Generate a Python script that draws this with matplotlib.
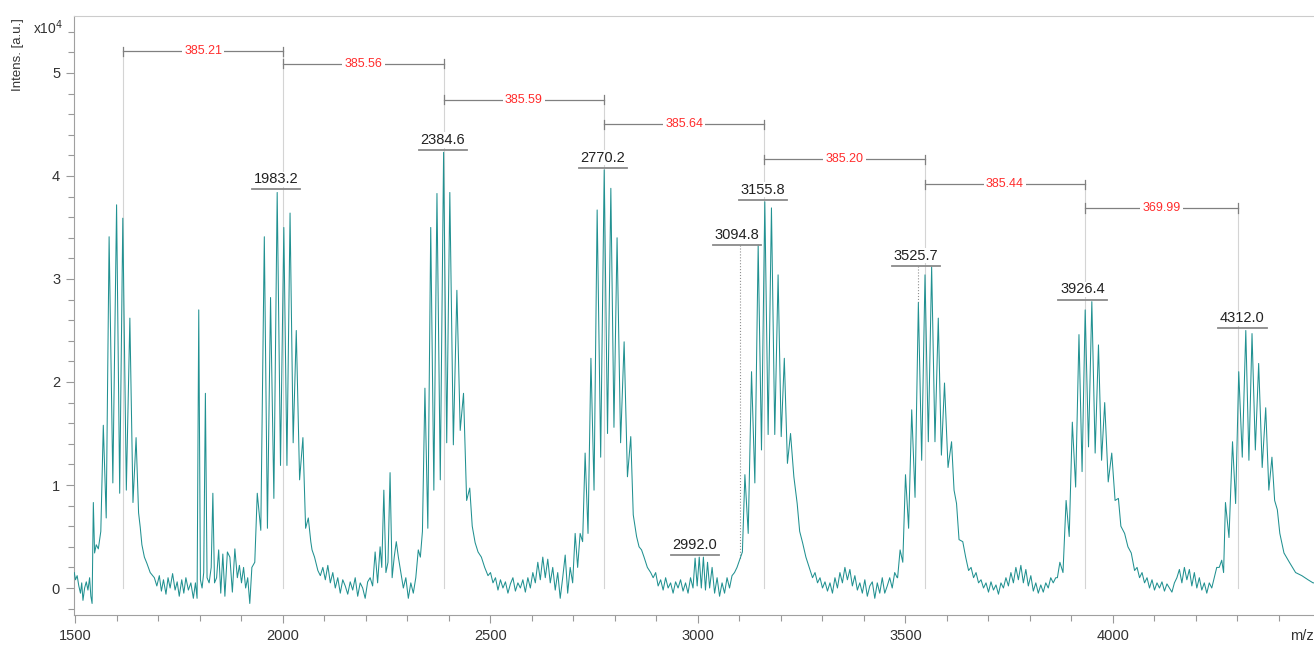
import numpy as np
import matplotlib.pyplot as plt

plt.rcParams['font.family'] = ['Liberation Sans', 'DejaVu Sans']

# intensities in units of 1e4
# baseline / small-peak stretches as plain (m/z, intensity) points
lead1_mz = [1497, 1500, 1504, 1508, 1512, 1515, 1518, 1522, 1526, 1530, 1534, 1537, 1540, 1543, 1546, 1550, 1555]
lead1_int = [0.15, 0.08, 0.12, 0.02, -0.05, 0.05, -0.12, 0.0, 0.06, -0.02, 0.1, -0.08, -0.15, 0.83, 0.34, 0.42, 0.38]

gap1_mz = [1656, 1660, 1666, 1672, 1680, 1690, 1696, 1702, 1707, 1712, 1718, 1723, 1728, 1734, 1740, 1745,
           1750, 1756, 1761, 1766, 1772, 1778, 1784, 1789, 1793, 1797, 1801, 1805, 1809, 1813, 1817, 1822, 1827,
           1831, 1835, 1840, 1845, 1850, 1855, 1860, 1866, 1872, 1878, 1884, 1890, 1895, 1900, 1905, 1910, 1915,
           1920, 1925]
gap1_int = [0.59, 0.42, 0.3, 0.24, 0.15, 0.1, 0.02, 0.12, -0.03, 0.08, -0.06, 0.1, 0.0, 0.14, -0.02, 0.06,
            -0.08, 0.08, -0.05, 0.1, -0.02, 0.05, -0.1, 0.05, -0.1, 2.70, 0.08, 0.0, 0.15, 1.89, 0.1, 0.05, 0.2,
            0.92, 0.05, 0.1, 0.37, -0.05, 0.33, -0.08, 0.35, 0.3, -0.04, 0.38, 0.1, 0.22, 0.05, 0.2, 0.0, 0.1,
            -0.15, 0.2]

gap2_mz = [2070, 2076, 2084, 2090, 2096, 2102, 2108, 2114, 2120, 2126, 2132, 2138, 2144, 2150, 2156, 2162,
           2168, 2174, 2180, 2186, 2192, 2198, 2204, 2210, 2216, 2222, 2228, 2234, 2238, 2243, 2248, 2253, 2258,
           2263, 2268, 2273, 2278, 2284, 2290, 2296, 2302, 2308, 2314, 2320, 2326, 2331]
gap2_int = [0.37, 0.3, 0.17, 0.12, 0.2, 0.08, 0.22, 0.05, 0.15, 0.0, 0.1, -0.05, 0.08, 0.02, -0.06, 0.06,
            -0.02, 0.1, -0.08, 0.05, 0.0, -0.1, 0.06, 0.1, 0.02, 0.35, 0.05, 0.4, 0.2, 0.95, 0.15, 0.25, 1.12,
            0.1, 0.3, 0.45, 0.3, 0.15, 0.0, 0.1, -0.1, 0.05, -0.05, 0.1, 0.37, 0.3]

gap3_mz = [2463, 2470, 2478, 2486, 2494, 2500, 2506, 2512, 2518, 2524, 2530, 2536, 2542, 2548, 2554, 2560,
           2566, 2572, 2578, 2584, 2590, 2596, 2602, 2608, 2614, 2620, 2626, 2632, 2638, 2644, 2650, 2656, 2662,
           2668, 2674, 2680, 2686, 2692, 2698, 2704, 2710, 2716]
gap3_int = [0.44, 0.35, 0.3, 0.2, 0.12, 0.15, 0.05, 0.1, -0.02, 0.08, 0.0, 0.06, -0.05, 0.04, 0.1, -0.03,
            0.05, 0.0, 0.08, -0.04, 0.1, 0.0, 0.15, 0.05, 0.25, 0.08, 0.3, 0.1, 0.28, 0.05, 0.2, -0.02, 0.15,
            -0.1, 0.1, 0.32, -0.05, 0.2, 0.05, 0.53, 0.2, 0.53]

gap4_mz = [2852, 2858, 2864, 2870, 2878, 2886, 2892, 2898, 2904, 2910, 2916, 2922, 2928, 2934, 2940, 2946,
           2952, 2958, 2964, 2970, 2976, 2982, 2988, 2993, 2998, 3003, 3008, 3013, 3018, 3023, 3028, 3034, 3040,
           3046, 3052, 3058, 3064, 3070, 3076, 3082, 3088, 3094, 3100]
gap4_int = [0.5, 0.4, 0.37, 0.3, 0.2, 0.15, 0.1, 0.15, 0.02, 0.08, -0.02, 0.1, 0.0, 0.05, -0.05, 0.06,
            0.0, 0.08, -0.03, 0.05, -0.05, 0.1, 0.0, 0.29, 0.02, 0.3, 0.0, 0.3, -0.02, 0.25, 0.0, 0.2, -0.05,
            0.1, -0.08, 0.05, -0.05, 0.1, 0.0, 0.12, 0.15, 0.2, 0.27]

gap5_mz = [3252, 3260, 3268, 3276, 3282, 3288, 3294, 3300, 3306, 3312, 3318, 3324, 3330, 3336, 3342, 3348,
           3354, 3360, 3366, 3372, 3378, 3384, 3390, 3396, 3402, 3408, 3414, 3420, 3426, 3432, 3438, 3444, 3450,
           3456, 3462, 3468, 3474, 3480]
gap5_int = [0.44, 0.3, 0.2, 0.1, 0.15, 0.05, 0.1, 0.0, 0.06, -0.03, 0.05, -0.05, 0.1, 0.0, 0.15, 0.05,
            0.2, 0.08, 0.18, 0.02, 0.12, -0.02, 0.05, -0.05, 0.08, -0.08, 0.02, 0.06, -0.1, 0.05, -0.05, 0.1,
            -0.05, 0.02, 0.1, 0.0, 0.15, 0.1]

gap6_mz = [3638, 3645, 3652, 3658, 3664, 3670, 3676, 3682, 3688, 3694, 3700, 3706, 3712, 3718, 3724, 3730,
           3736, 3742, 3748, 3754, 3760, 3766, 3772, 3778, 3784, 3790, 3796, 3802, 3808, 3814, 3820, 3826, 3832,
           3838, 3844, 3850, 3856, 3862]
gap6_int = [0.45, 0.3, 0.17, 0.2, 0.1, 0.15, 0.05, 0.08, 0.0, 0.05, -0.04, 0.06, -0.02, 0.03, -0.06, 0.05,
            0.0, 0.1, 0.02, 0.15, 0.05, 0.2, 0.08, 0.22, 0.05, 0.18, 0.02, 0.12, -0.03, 0.05, -0.05, 0.03, -0.04,
            0.05, 0.0, 0.1, 0.05, 0.1]

gap7_mz = [4028, 4036, 4044, 4052, 4058, 4064, 4070, 4076, 4082, 4088, 4094, 4100, 4106, 4112, 4118, 4124,
           4130, 4136, 4142, 4148, 4154, 4160, 4166, 4172, 4178, 4184, 4190, 4196, 4202, 4208, 4214, 4220, 4226,
           4232, 4238, 4244, 4250]
gap7_int = [0.53, 0.4, 0.34, 0.17, 0.2, 0.1, 0.15, 0.05, 0.1, 0.0, 0.08, -0.02, 0.05, 0.0, 0.06, -0.03,
            0.04, 0.0, -0.04, 0.05, 0.1, 0.18, 0.05, 0.2, 0.08, 0.18, 0.02, 0.15, 0.0, 0.1, -0.02, 0.05, -0.05,
            0.05, 0.0, 0.1, 0.2]

tail_mz = [4412, 4425, 4440, 4455, 4470, 4482, 4500, 4520, 4545]
tail_int = [0.34, 0.25, 0.15, 0.12, 0.08, 0.05, 0.05, 0.0, 0.02]

# peak clusters: spike positions, spike tops, valley minima (before, between, after)
c1_mz = [1567, 1581, 1599, 1614, 1631, 1646]
c1_top = [1.58, 3.41, 3.72, 3.59, 2.62, 1.46]
c1_floor = [0.55, 0.68, 1.02, 0.92, 0.95, 0.83, 0.73]

c2_mz = [1938, 1955, 1970, 1986, 2002, 2017, 2032, 2048, 2061]
c2_top = [0.92, 3.41, 2.82, 3.84, 3.50, 3.64, 2.50, 1.46, 0.68]
c2_floor = [0.25, 0.56, 0.58, 0.87, 1.19, 1.19, 1.41, 1.05, 0.58, 0.45]

c3_mz = [2342, 2356, 2371, 2387, 2402, 2419, 2435, 2450]
c3_top = [1.94, 3.50, 3.83, 4.23, 3.84, 2.89, 1.89, 0.97]
c3_floor = [0.55, 0.58, 0.95, 1.05, 1.41, 1.39, 1.53, 0.85, 0.6]

c4_mz = [2728, 2742, 2757, 2774, 2790, 2805, 2822, 2838]
c4_top = [1.31, 2.23, 3.67, 4.06, 3.88, 3.40, 2.39, 1.47]
c4_floor = [0.45, 0.53, 0.95, 1.27, 1.50, 1.56, 1.41, 1.08, 0.71]

c5_mz = [3113, 3129, 3145, 3161, 3177, 3193, 3208, 3223, 3239]
c5_top = [1.10, 2.10, 3.33, 3.75, 3.69, 3.04, 2.23, 1.50, 0.82]
c5_floor = [0.35, 0.53, 1.02, 1.34, 1.49, 1.49, 1.47, 1.21, 1.08, 0.55]

c6_mz = [3487, 3500, 3515, 3531, 3547, 3563, 3579, 3594, 3611, 3623]
c6_top = [0.37, 1.10, 1.73, 2.77, 3.04, 3.12, 2.62, 1.99, 1.42, 0.82]
c6_floor = [0.1, 0.25, 0.58, 0.88, 1.24, 1.42, 1.42, 1.29, 1.17, 0.95, 0.47]

c7_mz = [3872, 3887, 3902, 3918, 3933, 3949, 3965, 3980, 3997, 4013]
c7_top = [0.25, 0.85, 1.61, 2.46, 2.70, 2.78, 2.36, 1.80, 1.31, 0.87]
c7_floor = [0.1, 0.15, 0.5, 0.98, 1.13, 1.37, 1.31, 1.24, 1.03, 0.85, 0.6]

c8_mz = [4262, 4271, 4288, 4303, 4320, 4335, 4351, 4368, 4383, 4396]
c8_top = [0.27, 0.83, 1.42, 2.10, 2.50, 2.47, 2.18, 1.75, 1.27, 0.76]
c8_floor = [0.2, 0.15, 0.49, 0.82, 1.27, 1.24, 1.34, 1.17, 0.95, 0.85, 0.53]

# peak labels
peak_text = ['1983.2', '2384.6', '2770.2', '2992.0', '3094.8', '3155.8', '3525.7', '3926.4', '4312.0']
peak_mz = [1983.2, 2384.6, 2770.2, 2992.0, 3094.8, 3155.8, 3525.7, 3926.4, 4312.0]
peak_label_y = [3.87, 4.25, 4.08, 0.32, 3.33, 3.77, 3.13, 2.80, 2.52]
peak_line_mz = [3101, 3531]
peak_line_top = [3.33, 3.13]
peak_line_bottom = [0.27, 2.77]

# distance brackets
bracket_text = ['385.21', '385.56', '385.59', '385.64', '385.20', '385.44', '369.99']
bracket_x = [1614.5, 2001, 2387, 2773, 3160, 3546, 3932, 4302]
bracket_y = [5.21, 5.09, 4.74, 4.50, 4.16, 3.92, 3.69]


def comb(pos, top, floor):
    # alternate valley minimum / spike top
    xs, ys = [pos[0] - 6], [floor[0]]
    for i, (p, t) in enumerate(zip(pos, top)):
        nxt = pos[i + 1] if i + 1 < len(pos) else p + 12
        xs += [p, (p + nxt) / 2]
        ys += [t, floor[i + 1]]
    return xs, ys


parts = [(lead1_mz, lead1_int), comb(c1_mz, c1_top, c1_floor), (gap1_mz, gap1_int),
         comb(c2_mz, c2_top, c2_floor), (gap2_mz, gap2_int), comb(c3_mz, c3_top, c3_floor),
         (gap3_mz, gap3_int), comb(c4_mz, c4_top, c4_floor), (gap4_mz, gap4_int),
         comb(c5_mz, c5_top, c5_floor), (gap5_mz, gap5_int), comb(c6_mz, c6_top, c6_floor),
         (gap6_mz, gap6_int), comb(c7_mz, c7_top, c7_floor), (gap7_mz, gap7_int),
         comb(c8_mz, c8_top, c8_floor), (tail_mz, tail_int)]
mz = np.concatenate([p[0] for p in parts])
intens = np.concatenate([p[1] for p in parts])

fig = plt.figure(figsize=(13.14, 6.46), dpi=100)
ax = fig.add_axes([74 / 1314, 31 / 646, 1266 / 1314, 599 / 646])

ax.plot(mz, intens, color='#219191', lw=0.75, zorder=3)

ax.set_xlim(1496.4, 4547)
ax.set_ylim(-0.262, 5.553)
ax.set_xticks([1500, 2000, 2500, 3000, 3500, 4000])
ax.set_xticks(np.arange(1500, 4600, 100), minor=True)
ax.set_yticks([0, 1, 2, 3, 4, 5])
ax.set_yticks(np.arange(-0.2, 5.6, 0.2), minor=True)
ax.tick_params(which='major', length=6, width=0.8, color='#999999', labelsize=10.5, labelcolor='#333333', pad=4)
ax.tick_params(which='minor', length=4.5, width=0.8, color='#999999')
ax.spines['right'].set_visible(False)
for s in ['left', 'bottom']:
    ax.spines[s].set_color('#a0a0a0')
ax.spines['top'].set_color('#cccccc')

# vertical guide lines at bracket ends
for i, x in enumerate(bracket_x):
    top = max(bracket_y[max(i - 1, 0)], bracket_y[min(i, len(bracket_y) - 1)])
    ax.plot([x, x], [0, top], color='#d4d4d4', lw=0.8, zorder=1)

for i, t in enumerate(bracket_text):
    x0, x1, y = bracket_x[i], bracket_x[i + 1], bracket_y[i]
    ax.plot([x0, x1], [y, y], color='#808080', lw=0.9, zorder=4)
    for x in (x0, x1):
        ax.plot([x, x], [y - 0.045, y + 0.045], color='#808080', lw=0.9, zorder=4)
    ax.text((x0 + x1) / 2, y, t, color='#ff2d2d', fontsize=9, ha='center', va='center', zorder=5,
            bbox=dict(facecolor='white', edgecolor='none', pad=1.5))

for x, y0, y1 in zip(peak_line_mz, peak_line_top, peak_line_bottom):
    ax.plot([x, x], [y0, y1], color='#909090', lw=0.8, ls=':', zorder=2)

for t, x, y in zip(peak_text, peak_mz, peak_label_y):
    ax.plot([x - 58, x + 58], [y, y], color='#8a8a8a', lw=1.3, zorder=6)
    ax.text(x, y + 0.03, t, fontsize=10.5, color='#222222', ha='center', va='bottom', zorder=6,
            bbox=dict(facecolor='white', edgecolor='none', pad=0.5))

fig.text(33 / 1314, 1 - 28 / 646, 'x10$^4$', fontsize=10, color='#333333', ha='left', va='center')
fig.text(18 / 1314, 1 - 18 / 646, 'Intens. [a.u.]', fontsize=9.5, color='#333333', rotation=90,
         ha='center', va='top')
fig.text(1290 / 1314, 1 - 636 / 646, 'm/z', fontsize=10.5, color='#333333', ha='left', va='center')

fig.savefig('out.png', dpi=100)
